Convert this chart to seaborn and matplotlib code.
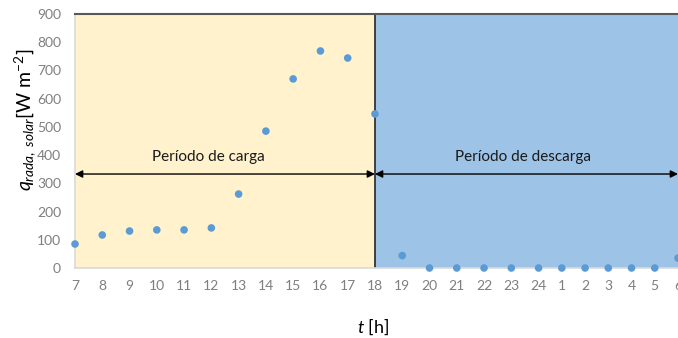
import matplotlib
matplotlib.use("Agg")
import numpy as np
import pandas as pd
import matplotlib.pyplot as plt
import seaborn as sns

# hour labels (day 1 from 7 h to day 2 at 6 h)
hours = [7, 8, 9, 10, 11, 12, 13, 14, 15, 16, 17, 18,
         19, 20, 21, 22, 23, 24, 1, 2, 3, 4, 5, 6]
# solar radiation [W m-2]
q_solar = [85, 117, 131, 135, 135, 142, 262, 485, 670, 769, 744, 546,
           44, 0, 0, 0, 0, 0, 0, 0, 0, 0, 0, 35]
y_ticks = [0, 100, 200, 300, 400, 500, 600, 700, 800, 900]
charge_end = 18
phase_labels = ["Período de carga", "Período de descarga"]

sns.set_style("white")
plt.rcParams["font.family"] = ["Lato", "DejaVu Sans"]
plt.rcParams["mathtext.fontset"] = "custom"
plt.rcParams["mathtext.rm"] = "Lato"
plt.rcParams["mathtext.it"] = "Lato:italic"

df = pd.DataFrame({"pos": np.arange(len(hours)), "hour": hours, "q": q_solar})
i_split = hours.index(charge_end)
i_last = len(hours) - 1
i_24 = hours.index(24)

# the hours after midnight sit a bit closer together in the original
k = 0.852
def fwd(x):
    x = np.asarray(x, dtype=float)
    return np.where(x <= i_24, x, i_24 + (x - i_24) * k)

def inv(x):
    x = np.asarray(x, dtype=float)
    return np.where(x <= i_24, x, i_24 + (x - i_24) / k)

fig = plt.figure(figsize=(6.78, 3.38), dpi=100)
ax = fig.add_axes([75 / 678, 1 - 268 / 338, 1 - 75 / 678, (268 - 14) / 338])
ax.set_xscale("function", functions=(fwd, inv))

ax.axvspan(0, i_split, color="#FFF2CC", zorder=0, lw=0)
ax.axvspan(i_split, i_last, color="#9DC3E6", zorder=0, lw=0)
ax.axvline(i_split, color="#333333", lw=1.3, zorder=1)

sns.scatterplot(data=df, x="pos", y="q", ax=ax, color="#5B9BD5", s=30,
                edgecolor="none", zorder=5, clip_on=False, legend=False)

ax.set_xlim(0, i_last)
ax.set_ylim(0, 900)
ax.set_xticks(df["pos"])
ax.set_xticklabels([str(h) for h in hours])
ax.set_yticks(y_ticks)
ax.tick_params(axis="both", length=0, labelsize=10, labelcolor="#7F7F7F")
ax.tick_params(axis="y", pad=10)
ax.tick_params(axis="x", pad=9)
ax.set_xlabel("")
ax.set_ylabel("")

for side in ["left", "bottom"]:
    ax.spines[side].set_color("#D9D9D9")
    ax.spines[side].set_linewidth(1.2)
ax.spines["top"].set_color("#595959")
ax.spines["top"].set_linewidth(1.5)
ax.spines["right"].set_visible(False)

# period arrows and labels
arrow_y = 333
for x0, x1 in [(0, i_split), (i_split, i_last)]:
    ax.annotate("", xy=(x0, arrow_y), xytext=(x1, arrow_y),
                arrowprops=dict(arrowstyle="<|-|>", color="black", lw=1,
                                mutation_scale=11, shrinkA=0, shrinkB=0),
                annotation_clip=False, zorder=6)
ax.text(4.9, 393, phase_labels[0], ha="center", va="center",
        fontsize=11, color="#1a1a1a")
ax.text(16.43, 393, phase_labels[1], ha="center", va="center",
        fontsize=11, color="#1a1a1a")

fig.text(25 / 678, 1 - 120 / 338,
         r"$q_{rada,\ solar}$[W m$^{-2}$]", rotation=90,
         ha="center", va="center", fontsize=14, color="black")
fig.text(373 / 678, 1 - 327 / 338, r"$t$ [h]", ha="center", va="center",
         fontsize=13, color="black")

fig.savefig("out.png", dpi=100)
